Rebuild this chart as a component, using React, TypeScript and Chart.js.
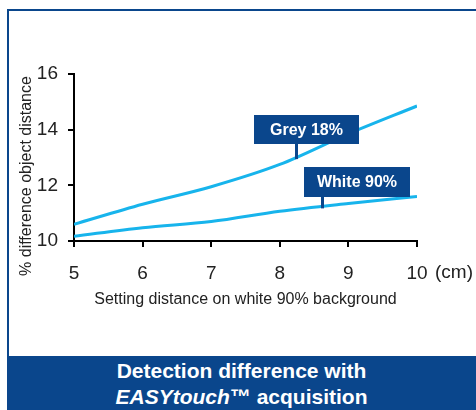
import React, { useEffect, useRef } from 'react';
import { Chart, registerables } from 'chart.js';

Chart.register(...registerables);

// ---- data ----
const distances = [5, 6, 7, 8, 9, 10];
const grey18 = [10.6, 11.32, 11.95, 12.75, 13.85, 14.85];
const white90 = [10.17, 10.48, 10.7, 11.07, 11.35, 11.6];
const seriesNames = ['Grey 18%', 'White 90%'];
const xTickValues = [5, 6, 7, 8, 9, 10];
const yTickValues = [10, 12, 14, 16];
const xTitle = 'Setting distance on white 90% background';
const yTitle = '% difference object distance';
const xUnit = '(cm)';
const footerLine1 = 'Detection difference with';
const footerBrand = 'EASYtouch';
const footerRest = '\u2122 acquisition';

const DARK = '#0a468c';
const LIGHT = '#17b4ec';
const TEXT = '#222222';
const FONT = '"Liberation Sans", Arial, Helvetica, sans-serif';

function interp(xs: number[], ys: number[], at: number): number {
  for (let i = 0; i < xs.length - 1; i++) {
    if (at >= xs[i] && at <= xs[i + 1]) {
      const t = (at - xs[i]) / (xs[i + 1] - xs[i]);
      return ys[i] + t * (ys[i + 1] - ys[i]);
    }
  }
  return ys[ys.length - 1];
}

const callouts = [
  { text: seriesNames[0], values: grey18, at: 8.24, dx: -42, w: 105, h: 29, gap: 13 },
  { text: seriesNames[1], values: white90, at: 8.62, dx: -18, w: 106, h: 30, gap: 9 },
];

const overlayPlugin = {
  id: 'overlay',
  afterDatasetsDraw(chart: any) {
    const { ctx, scales } = chart;
    const xs = scales.x;
    const ys = scales.y;
    ctx.save();
    callouts.forEach((c) => {
      const ax = Math.round(xs.getPixelForValue(c.at));
      const ly = ys.getPixelForValue(interp(distances, c.values, c.at));
      const bottom = Math.round(ly - c.gap);
      const top = bottom - c.h;
      const left = ax + c.dx;
      ctx.fillStyle = DARK;
      ctx.fillRect(left, top, c.w, c.h);
      ctx.fillRect(ax - 1, bottom, 3, ly - bottom + 2);
      ctx.fillStyle = '#ffffff';
      ctx.font = `bold 16px ${FONT}`;
      ctx.textAlign = 'center';
      ctx.textBaseline = 'middle';
      ctx.fillText(c.text, left + c.w / 2, top + c.h / 2 + 1);
    });
    ctx.restore();
  },
  afterDraw(chart: any) {
    const { ctx, scales } = chart;
    const xs = scales.x;
    ctx.save();
    // y title
    ctx.fillStyle = TEXT;
    ctx.font = `16px ${FONT}`;
    ctx.textAlign = 'center';
    ctx.textBaseline = 'middle';
    ctx.translate(27, 176);
    ctx.rotate(-Math.PI / 2);
    ctx.fillText(yTitle, 0, 0);
    ctx.restore();
    // unit after last x tick
    ctx.save();
    ctx.fillStyle = TEXT;
    ctx.font = `19px ${FONT}`;
    ctx.textAlign = 'left';
    ctx.textBaseline = 'middle';
    ctx.fillText(xUnit, xs.getPixelForValue(10) + 18, 273);
    ctx.restore();
  },
};

function LineChart() {
  const ref = useRef<HTMLCanvasElement | null>(null);
  useEffect(() => {
    if (!ref.current) return;
    const chart = new Chart(ref.current, {
      type: 'line',
      data: {
        datasets: [
          {
            label: seriesNames[0],
            data: distances.map((d, i) => ({ x: d, y: grey18[i] })),
            borderColor: LIGHT,
            borderWidth: 3,
            pointRadius: 0,
            cubicInterpolationMode: 'monotone',
            fill: false,
          },
          {
            label: seriesNames[1],
            data: distances.map((d, i) => ({ x: d, y: white90[i] })),
            borderColor: LIGHT,
            borderWidth: 3,
            pointRadius: 0,
            cubicInterpolationMode: 'monotone',
            fill: false,
          },
        ],
      },
      options: {
        responsive: false,
        animation: false,
        devicePixelRatio: 1,
        layout: { padding: { left: 0, top: 74, right: 59, bottom: 0 } },
        plugins: { legend: { display: false }, tooltip: { enabled: false } },
        scales: {
          x: {
            type: 'linear',
            min: 5,
            max: 10,
            afterBuildTicks: (s: any) => {
              s.ticks = xTickValues.map((v) => ({ value: v }));
            },
            afterFit: (s: any) => {
              s.height = 115;
            },
            ticks: {
              color: TEXT,
              font: { family: FONT, size: 19 },
              padding: 15,
              maxRotation: 0,
            },
            grid: {
              drawOnChartArea: false,
              drawTicks: true,
              tickLength: 6,
              color: '#000',
              lineWidth: 2,
            },
            border: { display: true, color: '#000', width: 2 },
            title: {
              display: true,
              text: xTitle,
              color: TEXT,
              font: { family: FONT, size: 16 },
              padding: { top: 0, bottom: 47 },
            },
          },
          y: {
            type: 'linear',
            min: 10,
            max: 16,
            afterBuildTicks: (s: any) => {
              s.ticks = yTickValues.map((v) => ({ value: v }));
            },
            afterFit: (s: any) => {
              s.width = 74;
            },
            ticks: {
              color: TEXT,
              font: { family: FONT, size: 19 },
              padding: 10,
            },
            grid: {
              drawOnChartArea: false,
              drawTicks: true,
              tickLength: 6,
              color: '#000',
              lineWidth: 2,
            },
            border: { display: true, color: '#000', width: 2 },
          },
        },
      },
      plugins: [overlayPlugin],
    } as any);
    return () => chart.destroy();
  }, []);
  return <canvas ref={ref} width={476} height={356} style={{ position: 'absolute', left: 0, top: 0 }} />;
}

export default function App() {
  return (
    <div
      style={{
        position: 'fixed',
        left: 0,
        top: 0,
        width: 476,
        height: 410,
        background: '#ffffff',
        overflow: 'hidden',
        fontFamily: FONT,
      }}
    >
      <LineChart />
      <div style={{ position: 'absolute', left: 7, top: 9, width: 469, height: 2, background: DARK }} />
      <div style={{ position: 'absolute', left: 7, top: 9, width: 2, height: 347, background: DARK }} />
      <div
        style={{
          position: 'absolute',
          left: 7,
          top: 356,
          width: 469,
          height: 54,
          background: DARK,
          color: '#ffffff',
          fontWeight: 'bold',
          fontSize: 21,
          lineHeight: '26px',
          textAlign: 'center',
          paddingTop: 2,
          boxSizing: 'border-box',
        }}
      >
        <div>{footerLine1}</div>
        <div>
          <i>{footerBrand}</i>
          {footerRest}
        </div>
      </div>
    </div>
  );
}
